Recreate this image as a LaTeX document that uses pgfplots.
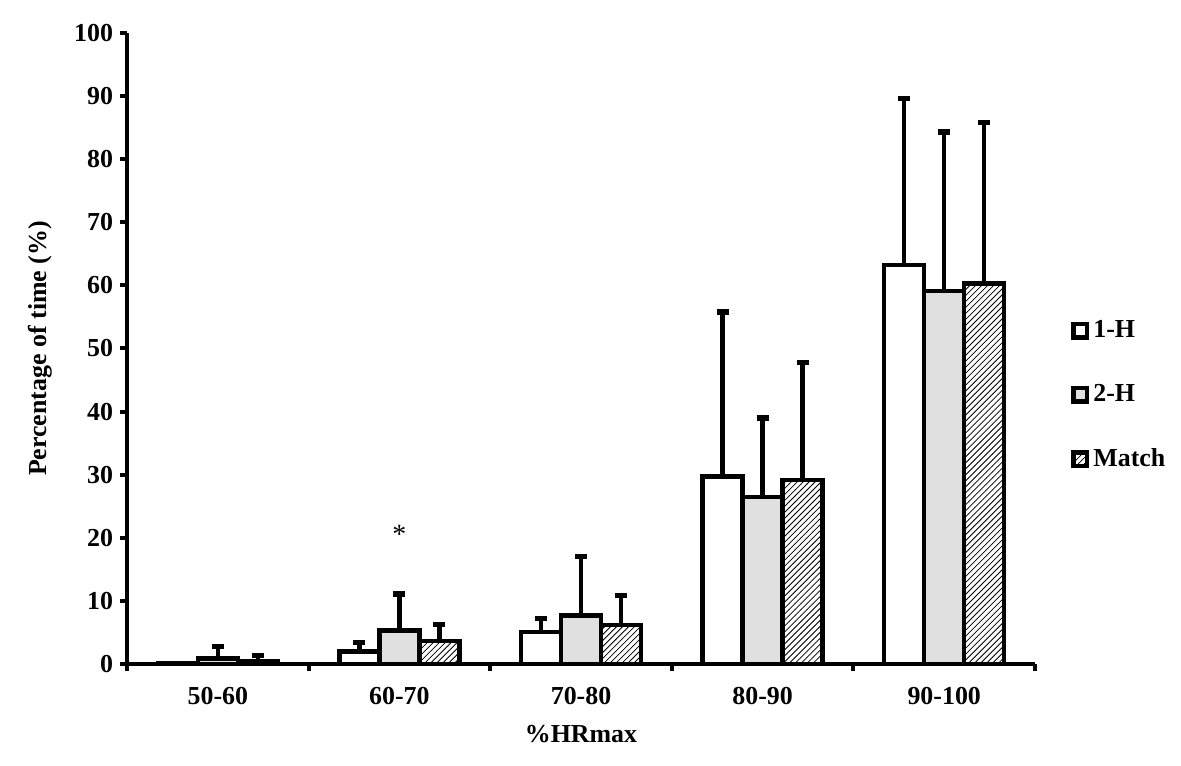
\documentclass[border=0pt]{standalone}
\usepackage{pgfplots}
\pgfplotsset{compat=1.18}
\usepackage{fontspec}
\setmainfont{Liberation Serif}
\usetikzlibrary{patterns}
\definecolor{lightgrey}{HTML}{E0E0E0}

\begin{document}
\begin{tikzpicture}
\pgfplotsset{
  boxleg/.style={legend image code/.code={
    \draw[##1, line width=2.2bp] (0bp,-3.4bp) rectangle (6.8bp,3.4bp);}},
}
\begin{axis}[
    scale only axis,
    width=454bp, height=315.5bp,
    xmin=-0.5, xmax=4.5,
    ymin=0, ymax=100,
    axis lines*=left,
    axis line style={line width=2bp},
    every tick/.style={black, line width=2bp},
    tick align=outside,
    major tick length=3.5bp,
    ytick={0,10,...,100},
    xtick={-0.5,0.5,...,4.5},
    xticklabels={},
    extra x ticks={0,1,2,3,4},
    extra x tick labels={50-60,60-70,70-80,80-90,90-100},
    extra x tick style={major tick length=0pt, tick label style={yshift=-8bp}},
    /pgf/number format/assume math mode=true,
    tick label style={font=\fontsize{13}{15}\selectfont\bfseries},
    xlabel={\textbf{\%HRmax}},
    ylabel={\textbf{Percentage of time (\%)}},
    label style={font=\fontsize{13}{15}\selectfont},
    xlabel style={yshift=0bp},
    ylabel style={yshift=4bp},
    ybar, bar width=0.22,
    error bars/y dir=plus,
    error bars/y explicit,
    error bars/error bar style={line width=2.2bp, black},
    error bars/error mark options={line width=2.6bp, mark size=3bp, black, rotate=90},
    legend style={at={(1.033,0.426)}, anchor=west, draw=none, fill=none,
      row sep=18bp, font=\fontsize{13}{15}\selectfont\bfseries},
    legend cell align=left,
    boxleg,
    clip=false,
]
\addplot[bar shift=-0.22, draw=black, line width=2.2bp, fill=white]
  coordinates {(0,0.1) +- (0,0) (1,2.0) +- (0,1.4) (2,5.1) +- (0,2.1)
               (3,29.7) +- (0,26.1) (4,63.2) +- (0,26.4)};
\addlegendentry{1-H}
\addplot[bar shift=0, draw=black, line width=2.2bp, fill=lightgrey]
  coordinates {(0,0.9) +- (0,1.9) (1,5.3) +- (0,5.8) (2,7.7) +- (0,9.3)
               (3,26.5) +- (0,12.5) (4,59.1) +- (0,25.2)};
\addlegendentry{2-H}
\addplot[bar shift=0.22, draw=black, line width=2.2bp, fill=white,
         postaction={pattern=north east lines}]
  coordinates {(0,0.5) +- (0,0.8) (1,3.6) +- (0,2.6) (2,6.2) +- (0,4.7)
               (3,29.2) +- (0,18.6) (4,60.3) +- (0,25.5)};
\addlegendentry{Match}
\node[font=\fontsize{14}{16}\selectfont] at (axis cs:1,20.6) {*};
\coordinate (bbA) at (rel axis cs:-0.1399,-0.1601);
\coordinate (bbB) at (rel axis cs:1.1608,1.0523);
\end{axis}
\path (bbA) rectangle (bbB);
\end{tikzpicture}
\end{document}
